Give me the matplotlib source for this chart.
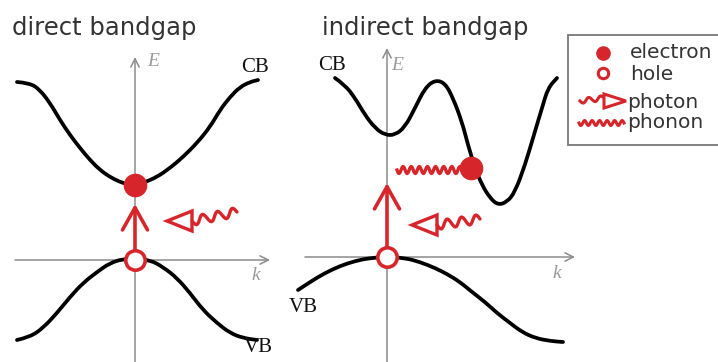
import numpy as np
import matplotlib
matplotlib.use("Agg")
import matplotlib.pyplot as plt
from matplotlib.patches import Polygon, Rectangle, PathPatch
from matplotlib.path import Path

# ---------------------------------------------------------------------------------------------
# band curves (pixel coords, y pointing down)
direct_cb_x = [17, 30, 40, 50, 60, 70, 80, 90, 100, 110, 120, 130, 135,
               143, 157, 170, 183, 197, 210, 220, 230, 240, 250, 258]
direct_cb_y = [82, 83, 90, 103, 120, 135, 148, 160, 170, 177, 182, 185, 185,
               183, 177, 168, 157, 143, 127, 110, 97, 87, 82, 80]
direct_vb_x = [17, 30, 43, 57, 70, 83, 97, 110, 123, 135, 150, 163, 177, 190,
               203, 217, 230, 243, 257]
direct_vb_y = [340, 337, 328, 313, 297, 283, 272, 263, 259, 259, 260, 267, 278, 293,
               310, 323, 333, 338, 340]

indirect_cb_x = [335, 345, 355, 365, 375, 385, 395, 405, 415, 425, 435, 445, 453, 462,
                 468, 475, 482, 490, 498, 507, 515, 525, 533, 542, 548, 557]
indirect_cb_y = [78, 85, 98, 115, 128, 135, 135, 127, 108, 88, 80, 83, 98, 122,
                 145, 168, 185, 198, 205, 202, 192, 165, 138, 108, 88, 78]
indirect_vb_x = [298, 310, 325, 340, 355, 370, 387, 405, 420, 435, 447, 460, 472, 485,
                 497, 510, 522, 535, 550, 563]
indirect_vb_y = [290, 282, 273, 266, 261, 258, 257, 258, 262, 268, 274, 282, 292, 302,
                 313, 323, 332, 338, 341, 342]

# carriers
electrons = [(135, 185), (471, 168)]
holes = [(135, 260), (387, 257)]
# vertical excitation arrows (start, tip)
excitations = [((135, 250), (135, 204)), ((387, 247), (387, 183))]
# photons: triangle tip and wave end
photons = [((167, 221), (237, 212)), ((412, 225), (480, 219))]
# phonon in the indirect panel
phonon = ((397, 170), (462, 170))

RED = "#d7262b"
AXC = "#8c8c8c"


def smooth_path(xs, ys):
    # quadratic bezier through midpoints, the read points act as control points
    pts = list(zip(xs, ys))
    verts = [pts[0]]
    codes = [Path.MOVETO]
    for i in range(1, len(pts) - 1):
        mid = ((pts[i][0] + pts[i + 1][0]) / 2, (pts[i][1] + pts[i + 1][1]) / 2)
        verts += [pts[i], mid]
        codes += [Path.CURVE3, Path.CURVE3]
    verts.append(pts[-1])
    codes.append(Path.LINETO)
    return Path(verts, codes)


def wave(x0, y0, x1, y1, n, amp, pts=12):
    # little wiggle glyph drawn along a straight segment
    t = np.linspace(0, 1, n * pts + 1)
    dx, dy = x1 - x0, y1 - y0
    L = np.hypot(dx, dy)
    nx, ny = -dy / L, dx / L
    s = amp * np.sin(2 * np.pi * n * t)
    return x0 + dx * t + nx * s, y0 + dy * t + ny * s


def photon_glyph(ax, tip, end, direction=-1, tri_len=25, tri_h=10, n=3, amp=4.5, lw=2.4):
    tx, ty = tip
    bx = tx - direction * tri_len
    tri = Polygon([(tx, ty), (bx, ty - tri_h), (bx, ty + tri_h)], closed=True,
                  facecolor="white", edgecolor=RED, lw=lw, joinstyle="miter", zorder=5)
    ax.add_patch(tri)
    wx, wy = wave(bx, ty, end[0], end[1], n, amp)
    ax.plot(wx, wy, color=RED, lw=lw, solid_capstyle="round", zorder=5)


fig = plt.figure(figsize=(7.18, 3.62), dpi=100)
ax = fig.add_axes([0, 0, 1, 1])
ax.set_xlim(0, 718)
ax.set_ylim(362, 0)
ax.axis("off")

# coordinate axes
axprops = dict(arrowstyle="->,head_length=0.6,head_width=0.3", color=AXC, lw=1.1,
               shrinkA=0, shrinkB=0, mutation_scale=10)
for (x, ytop, y0, xl, xr) in [(135, 57, 260, 15, 270), (387, 48, 257, 305, 575)]:
    ax.annotate("", xy=(x, ytop), xytext=(x, 362), arrowprops=axprops)
    ax.annotate("", xy=(xr, y0), xytext=(xl, y0), arrowprops=axprops)

# bands
for bx, by in [(direct_cb_x, direct_cb_y), (direct_vb_x, direct_vb_y),
               (indirect_cb_x, indirect_cb_y), (indirect_vb_x, indirect_vb_y)]:
    ax.add_patch(PathPatch(smooth_path(bx, by), facecolor="none", edgecolor="black",
                           lw=2.7, capstyle="round", joinstyle="round", zorder=3))

# excitation arrows
for start, tip in excitations:
    ax.annotate("", xy=tip, xytext=start,
                arrowprops=dict(arrowstyle="->,head_length=1.6,head_width=0.9", color=RED,
                                lw=2.6, shrinkA=0, shrinkB=0, mutation_scale=10), zorder=6)

# photons and phonon
for tip, end in photons:
    photon_glyph(ax, tip, end)
px, py = wave(phonon[0][0], phonon[0][1], phonon[1][0], phonon[1][1], 8, 3.5)
ax.plot(px, py, color=RED, lw=2.4, zorder=5)

# carriers
for (x, y) in electrons:
    ax.plot(x, y, "o", ms=16, color=RED, mec=RED, zorder=7)
for (x, y) in holes:
    ax.plot(x, y, "o", ms=14, mfc="white", mec=RED, mew=2.6, zorder=7)

# texts
ax.text(12, 35, "direct bandgap", fontsize=17.5, color="#333333", va="baseline", ha="left")
ax.text(322, 35, "indirect bandgap", fontsize=17.5, color="#333333", va="baseline", ha="left")
serif = dict(family="Liberation Serif", fontsize=15, color="#111111", va="center", ha="center")
ax.text(255, 68, "CB", **serif)
ax.text(258, 348, "VB", **serif)
ax.text(332, 66, "CB", **serif)
ax.text(303, 308, "VB", **serif)
lab = dict(family="Liberation Serif", style="italic", fontsize=14, color="#9a9a9a",
           va="center", ha="center")
ax.text(153, 62, "E", **lab)
ax.text(256, 276, "k", **lab)
ax.text(397, 66, "E", **lab)
ax.text(557, 273, "k", **lab)

# legend box
ax.add_patch(Rectangle((568, 35), 170, 110, facecolor="white", edgecolor="#777777", lw=1.3, zorder=2))
ax.plot(603, 53, "o", ms=9.5, color=RED, zorder=7)
ax.plot(603, 73, "o", ms=7.5, mfc="white", mec=RED, mew=2.2, zorder=7)
leg = dict(fontsize=14.5, color="#333333", va="center", ha="left")
ax.text(630, 52, "electron", **leg)
ax.text(630, 74, "hole", **leg)
wx, wy = wave(580, 101, 604, 98, 2, 2.5)
ax.plot(wx, wy, color=RED, lw=2.2, zorder=5)
ax.add_patch(Polygon([(626, 101), (604, 94), (604, 108)], closed=True, facecolor="white",
                     edgecolor=RED, lw=2.2, zorder=5))
ax.text(627, 102, "photon", **leg)
wx, wy = wave(579, 123, 624, 123, 6, 2.5)
ax.plot(wx, wy, color=RED, lw=2.2, zorder=5)
ax.text(627, 122, "phonon", **leg)

fig.savefig("out.png", dpi=100)
